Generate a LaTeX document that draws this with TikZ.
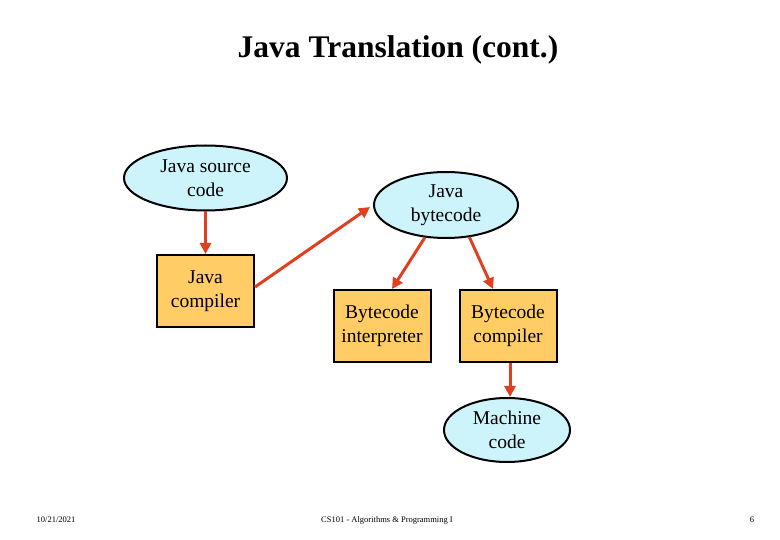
\documentclass[tikz,border=0pt]{standalone}
\usepackage{fontspec}
\setmainfont{Liberation Serif}
\usetikzlibrary{shapes.geometric,arrows.meta,calc}
\definecolor{ellfill}{HTML}{CCF4FA}
\definecolor{boxfill}{HTML}{FFCC66}
\definecolor{arrred}{HTML}{E04020}
\begin{document}
\begin{tikzpicture}[x=1pt,y=-1pt,
  nodetext/.style={font=\fontsize{19.5}{23.5}\selectfont, align=center, inner sep=0pt},
  ell/.style={nodetext, ellipse, draw=black, line width=2pt, fill=ellfill},
  boxnode/.style={nodetext, rectangle, draw=black, line width=2pt, fill=boxfill, minimum width=97pt, minimum height=72pt},
  flow/.style={draw=arrred, line width=3pt, -{Triangle[length=11pt,width=11pt]}},
  foot/.style={font=\fontsize{8.5}{10}\selectfont, inner sep=0pt}]
\useasboundingbox (0,0) rectangle (780,540);
\node[font=\bfseries\fontsize{31.5}{36}\selectfont, inner sep=0pt] (title) at (398,50) {Java Translation (cont.)};
\node[ell, minimum width=163pt, minimum height=65pt] (src) at (205.5,178) {Java source\\code};
\node[boxnode] (jc) at (205.5,291) {Java\\compiler};
\node[ell, minimum width=144pt, minimum height=66pt] (jb) at (446,205) {Java\\bytecode};
\node[boxnode] (bi) at (382,326) {Bytecode\\interpreter};
\node[boxnode] (bc) at (508,326) {Bytecode\\compiler};
\node[ell, minimum width=126pt, minimum height=64pt] (mc) at (507,430) {Machine\\code};
\draw[flow] (src.south) -- (jc.north);
\draw[flow] ($(jc.east)+(0,-4)$) -- ($(jb.west)+(-3,2)$);
\draw[flow] (jb.237) -- ($(bi.north)+(10,0)$);
\draw[flow] (jb.306) -- ($(bc.north)+(-15,0)$);
\draw[flow] ($(bc.south)+(2,0)$) -- ($(mc.north)+(3,0)$);
\node[foot] (date) at (56,520) {10/21/2021};
\node[foot] (course) at (387,520) {CS101 - Algorithms \& Programming I};
\node[foot] (page) at (752,520) {6};
\end{tikzpicture}
\end{document}
